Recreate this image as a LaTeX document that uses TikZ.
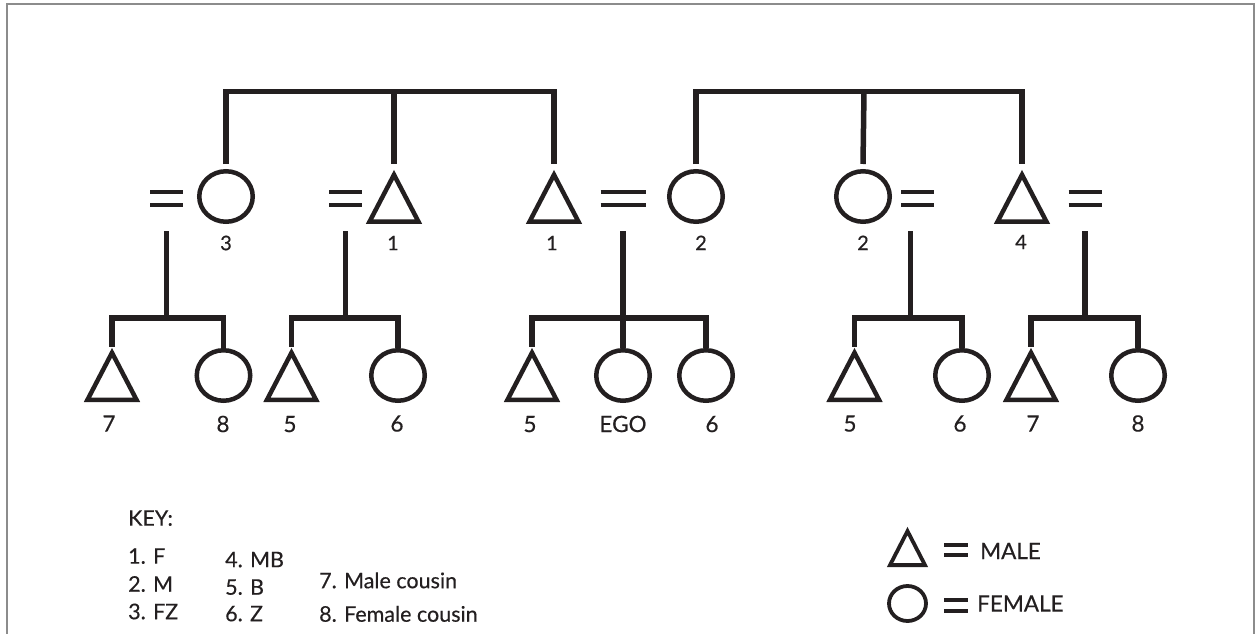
\documentclass[tikz,border=0pt]{standalone}
\usepackage{fontspec}
\setmainfont{Lato}[FakeBold=0.4]
\usepackage{tikz}
\usetikzlibrary{positioning, shapes.geometric}
\definecolor{ink}{RGB}{35,31,32}
\definecolor{framegray}{RGB}{140,140,140}
% the marriage sign: two bars (length, thickness, gap)
\newcommand{\wedsign}[3]{\vbox{\hrule width #1 height #2 \vskip #3 \hrule width #1 height #2}}

\begin{document}
\begin{tikzpicture}[x=1pt, y=-1pt, color=ink]
    \tikzstyle{female} = [ellipse, draw, line width=4.5pt, inner sep=0pt, minimum width=53.5pt, minimum height=50.5pt]
    \tikzstyle{male} = [isosceles triangle, isosceles triangle stretches, shape border rotate=90, draw, line width=4.5pt, inner sep=0pt, minimum width=49pt, minimum height=47pt, anchor=south]
    \tikzstyle{wed} = [inner sep=0pt]
    \tikzstyle{kin} = [line width=5.5pt]
    \tikzstyle{num} = [inner sep=0pt, font=\fontsize{20}{24}\selectfont, text height=14.3pt, text depth=0pt]
    \tikzstyle{kidnum} = [inner sep=0pt, font=\fontsize{22.5}{26}\selectfont, text height=16.1pt, text depth=0pt]
    \tikzstyle{keytext} = [inner sep=0pt, anchor=west, font=\fontsize{21.5}{25}\selectfont, text height=15.4pt, text depth=0pt]

    \useasboundingbox (0,0) rectangle (1255,634);
    \draw [framegray, line width=2pt] (7,640) -- (7,4) -- (1254,4) -- (1254,640);

    % first generation
    \node [wed] (eqA) at (166.5,198.5) {\wedsign{33pt}{4.3pt}{8.7pt}};
    \node [female] (fz3) at (226,196.5) {};
    \node [wed] (eqB) at (345.5,198.5) {\wedsign{33pt}{4.3pt}{8.7pt}};
    \node [male] (f1) at (394,224) {};
    \node [male] (f1b) at (554,224) {};
    \node [wed] (eqC) at (623,198.5) {\wedsign{45pt}{4.3pt}{8.7pt}};
    \node [female] (m2) at (696,196.5) {};
    \node [female] (m2b) at (863,196.5) {};
    \node [wed] (eqD) at (917.5,198.5) {\wedsign{33pt}{4.3pt}{8.7pt}};
    \node [male] (mb4) at (1022,224) {};
    \node [wed] (eqE) at (1085,198.5) {\wedsign{33pt}{4.3pt}{8.7pt}};

    \node [num] (n3) at (226,243) {3};
    \node [num] (n1) at (393,243) {1};
    \node [num] (n1b) at (552,243) {1};
    \node [num] (n2) at (701,243) {2};
    \node [num] (n2b) at (863,243) {2};
    \node [num] (n4) at (1021,242) {4};

    % sibling bars
    \coordinate (gen1) at (0,164);
    \coordinate (sibL) at (394,91.5);
    \coordinate (sibR) at (864,91.5);
    \draw [kin] (fz3 |- gen1) |- (sibL) -| (f1b |- gen1);
    \draw [kin] (sibL) -- (f1 |- gen1);
    \draw [kin] (m2 |- gen1) |- (sibR) -| (mb4 |- gen1);
    \draw [kin] (sibR) -- (m2b |- gen1);

    % second generation
    \node [male] (c7a) at (112,402) {};
    \node [female] (c8a) at (223.5,375.5) {};
    \node [male] (c5b) at (291.5,402) {};
    \node [female] (c6b) at (398,375.5) {};
    \node [male] (c5c) at (532,402) {};
    \node [female] (ego) at (623,375.5) {};
    \node [female] (c6c) at (706,375.5) {};
    \node [male] (c5d) at (854.5,402) {};
    \node [female] (c6d) at (962,375.5) {};
    \node [male] (c7e) at (1031,402) {};
    \node [female] (c8e) at (1138,375.5) {};

    \node [kidnum] (n7a) at (109,423.5) {7};
    \node [kidnum] (n8a) at (223,424) {8};
    \node [kidnum] (n5b) at (290,424) {5};
    \node [kidnum] (n6b) at (397,423.5) {6};
    \node [kidnum] (n5c) at (530,424) {5};
    \node [kidnum] (nego) at (623,424) {EGO};
    \node [kidnum] (n6c) at (712,424) {6};
    \node [kidnum] (n5d) at (850,423.5) {5};
    \node [kidnum] (n6d) at (960,423.5) {6};
    \node [kidnum] (n7e) at (1033,423.5) {7};
    \node [kidnum] (n8e) at (1138,423.5) {8};

    % descent lines
    \coordinate (kidbar) at (0,318);
    \coordinate (dropD) at ([xshift=-7pt]eqD.south);
    \draw [kin] ([yshift=-24pt]eqA.south) -- (eqA |- kidbar);
    \draw [kin] (c7a.north) |- (eqA |- kidbar) -| (c8a.north);
    \draw [kin] ([yshift=-24pt]eqB.south) -- (eqB |- kidbar);
    \draw [kin] (c5b.north) |- (eqB |- kidbar) -| (c6b.north);
    \draw [kin] ([yshift=-24pt]eqC.south) -- (ego.north);
    \draw [kin] (c5c.north) |- (eqC |- kidbar) -| (c6c.north);
    \draw [kin] ([yshift=-24pt]dropD) -- (dropD |- kidbar);
    \draw [kin] (c5d.north) |- (dropD |- kidbar) -| (c6d.north);
    \draw [kin] ([yshift=-24pt]eqE.south) -- (eqE |- kidbar);
    \draw [kin] (c7e.north) |- (eqE |- kidbar) -| (c8e.north);

    % key
    \node [keytext] (keyhead) at (128,518) {KEY:};
    \node [keytext] (k1) at (128,556) {1. F};
    \node [keytext] (k2) at (128,584) {2. M};
    \node [keytext] (k3) at (128,611.5) {3. FZ};
    \node [keytext] (k4) at (225,559.5) {4. MB};
    \node [keytext] (k5) at (225,587) {5. B};
    \node [keytext] (k6) at (225,613.5) {6. Z};
    \node [keytext] (k7) at (319,580.5) {7. Male cousin};
    \node [keytext] (k8) at (319,614) {8. Female cousin};

    % legend
    \node [male, line width=3.8pt, minimum width=35pt, minimum height=34pt] (legM) at (907.5,567) {};
    \node [wed] (legMeq) at (956,550.3) {\wedsign{24pt}{4pt}{6pt}};
    \node [keytext, font=\fontsize{22.5}{26}\selectfont, text height=16.1pt] (legMtxt) at (980,551) {MALE};
    \node [female, line width=3.8pt, minimum width=37pt, minimum height=35pt] (legF) at (907.5,603.5) {};
    \node [wed] (legFeq) at (956,605) {\wedsign{24pt}{4pt}{7pt}};
    \node [keytext, font=\fontsize{22.5}{26}\selectfont, text height=16.1pt] (legFtxt) at (977,603.5) {FEMALE};
\end{tikzpicture}
\end{document}
